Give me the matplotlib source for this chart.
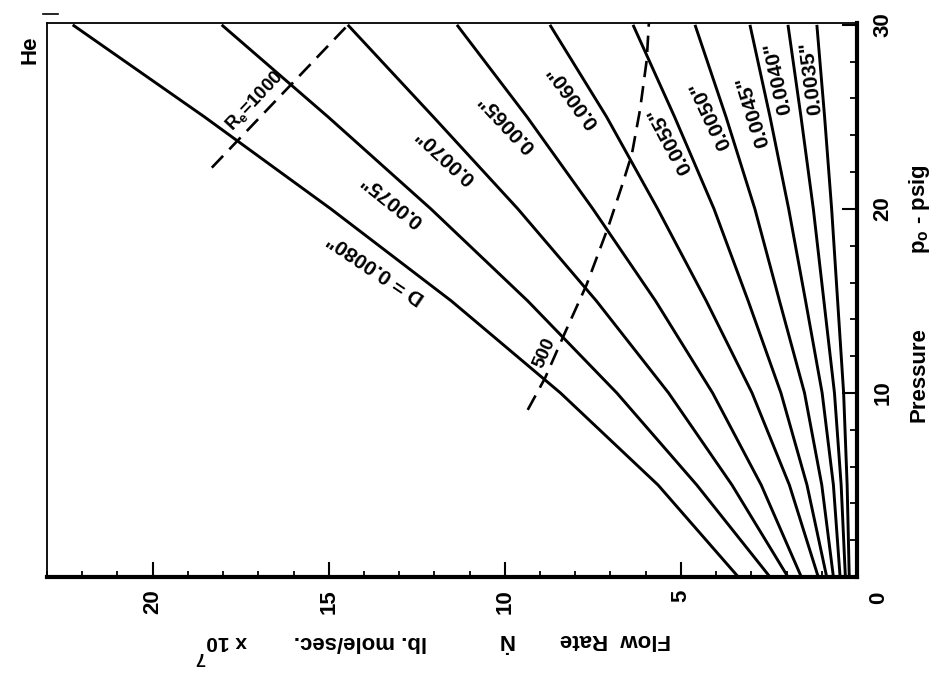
import matplotlib
matplotlib.use("Agg")
import matplotlib.pyplot as plt
from matplotlib.ticker import MultipleLocator
from matplotlib.lines import Line2D

plt.rcParams['font.family'] = ['Liberation Sans', 'DejaVu Sans']
plt.rcParams['mathtext.fontset'] = 'custom'
plt.rcParams['mathtext.rm'] = 'Liberation Sans'
plt.rcParams['mathtext.it'] = 'Liberation Sans:italic'
plt.rcParams['mathtext.bf'] = 'Liberation Sans:bold'

# ---------------- data ----------------
pressure = [0, 5, 10, 15, 20, 25, 30]          # p_o, psig
diameters = ['D = 0.0080"', '0.0075"', '0.0070"', '0.0065"', '0.0060"',
             '0.0055"', '0.0050"', '0.0045"', '0.0040"', '0.0035"']
flow_0080 = [3.37, 5.65, 8.42, 11.52, 14.94, 18.53, 22.27]
flow_0075 = [2.47, 4.55, 6.82, 9.35, 12.10, 15.02, 18.04]
flow_0070 = [1.96, 3.55, 5.35, 7.40, 9.63, 12.03, 14.46]
flow_0065 = [1.58, 2.72, 4.10, 5.72, 7.50, 9.37, 11.36]
flow_0060 = [1.10, 1.92, 2.98, 4.28, 5.66, 7.11, 8.72]
flow_0055 = [0.86, 1.42, 2.16, 3.09, 4.06, 5.18, 6.36]
flow_0050 = [0.67, 1.00, 1.49, 2.20, 2.90, 3.72, 4.60]
flow_0045 = [0.48, 0.67, 0.99, 1.46, 1.94, 2.47, 3.04]
flow_0040 = [0.33, 0.45, 0.64, 0.94, 1.24, 1.59, 1.96]
flow_0035 = [0.22, 0.28, 0.38, 0.55, 0.72, 0.92, 1.14]

re1000_flow = [18.32, 14.45]
re1000_p = [22.24, 30.0]
re500_flow = [9.35, 8.86, 8.30, 7.68, 7.06, 6.65, 6.39, 6.16, 5.97, 5.91]
re500_p = [9.08, 10.8, 13.24, 15.87, 19.04, 21.4, 23.0, 25.4, 28.1, 30.1]

x_tick_values = [0, 5, 10, 15, 20]
x_tick_labels = ['0', '5', '10', '15', '20']
y_tick_values = [0, 10, 20, 30]
y_tick_labels = ['0', '10', '20', '30']

# ---------------- layout ----------------
W, H = 951, 693
def px(x, y):
    return (x / W, 1 - y / H)

series = [flow_0080, flow_0075, flow_0070, flow_0065, flow_0060,
          flow_0055, flow_0050, flow_0045, flow_0040, flow_0035]
# label anchor (flow, pressure) and rotation
label_pos = [(13.64, 16.8, 146), (13.2, 20.5, 141), (11.70, 22.9, 137),
             (9.94, 24.7, 133), (8.07, 26.1, 126), (5.31, 23.75, 118),
             (4.15, 25.1, 115), (2.95, 25.3, 107), (2.24, 27.1, 102),
             (1.31, 27.1, 97)]

fig = plt.figure(figsize=(W / 100, H / 100), dpi=100)
ax = fig.add_axes([47 / W, (H - 577) / H, (857 - 47) / W, (577 - 23) / H])

for flows in series:
    ax.plot(flows, pressure, color='black', lw=2.1, solid_capstyle='butt',
            solid_joinstyle='round')

ax.plot(re1000_flow, re1000_p, color='black', lw=1.9, dashes=(6.2, 3.4))
ax.plot(re500_flow, re500_p, color='black', lw=1.9, dashes=(6.2, 3.4))

for lab, (f, p, rot) in zip(diameters, label_pos):
    ax.text(f, p, lab, rotation=rot, rotation_mode='anchor', ha='center',
            va='center', fontsize=15, fontweight='bold')

ax.text(17.1, 25.9, 'R$_\\mathbf{e}$=1000', rotation=46.7, rotation_mode='anchor',
        ha='center', va='center', fontsize=13.5, fontweight='bold')
ax.text(8.86, 12.2, '500', rotation=66, rotation_mode='anchor',
        ha='center', va='center', fontsize=13.5, fontweight='bold')

ax.set_xlim(23.0, 0)
ax.set_ylim(0, 30.1)

ax.yaxis.tick_right()
ax.set_xticks(x_tick_values, [''] + x_tick_labels[1:], rotation=90,
              fontsize=16, fontweight='bold')
ax.set_yticks(y_tick_values, [''] + y_tick_labels[1:], rotation=90,
              fontsize=16, fontweight='bold', va='center')
ax.xaxis.set_minor_locator(MultipleLocator(1))
ax.yaxis.set_minor_locator(MultipleLocator(2))
ax.tick_params(axis='both', which='both', direction='in', colors='black')
ax.tick_params(axis='x', which='major', length=11, width=1.5, pad=9)
ax.tick_params(axis='x', which='minor', length=4.5, width=1.3)
ax.tick_params(axis='y', which='major', length=11, width=1.5, pad=11,
               right=True, left=False, labelright=True, labelleft=False)
ax.tick_params(axis='y', which='minor', length=5, width=1.3, right=True, left=False)

for s in ['top', 'left']:
    ax.spines[s].set_linewidth(1.3)
for s in ['bottom', 'right']:
    ax.spines[s].set_linewidth(3)

# shared corner zero
ax.annotate(x_tick_labels[0], xy=(1, 0), xycoords='axes fraction', xytext=(22, -21),
            textcoords='offset pixels', rotation=90, ha='center', va='center',
            fontsize=16, fontweight='bold')

# axis titles
fig.text(*px(615, 640), 'Flow  Rate', rotation=180, ha='center', va='center',
         fontsize=16, fontweight='bold')
fig.text(*px(505, 640), '\u1E44', rotation=180, ha='center', va='center',
         fontsize=16, fontweight='bold')
fig.text(*px(360, 641), 'lb. mole/sec.', rotation=180, ha='center', va='center',
         fontsize=16, fontweight='bold')
fig.text(*px(227, 641), 'x 10', rotation=180, ha='center', va='center',
         fontsize=15, fontweight='bold')
fig.text(*px(200, 657), '7', rotation=180, ha='center', va='center',
         fontsize=13, fontweight='bold')
fig.text(*px(919, 375), 'Pressure', rotation=90, ha='center', va='center',
         fontsize=16, fontweight='bold')
fig.text(*px(919, 209), 'p$_\\mathbf{o}$ - psig', rotation=90, ha='center', va='center',
         fontsize=16, fontweight='bold')
fig.text(*px(30, 50), 'He', rotation=90, ha='center', va='center',
         fontsize=16, fontweight='bold')
fig.add_artist(Line2D([43 / W, 58 / W], [1 - 14 / H, 1 - 14 / H], color='black', lw=1.2))

fig.savefig('out.png', dpi=100, facecolor='white')
